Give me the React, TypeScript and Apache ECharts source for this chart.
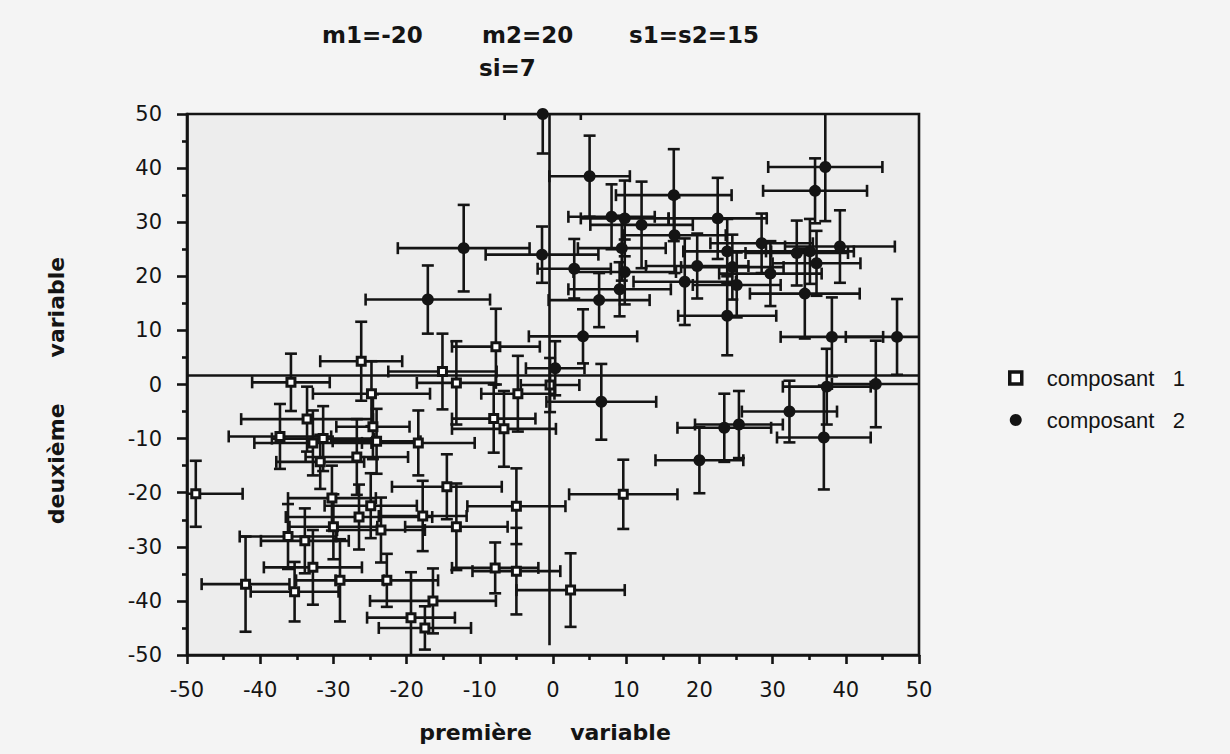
import React, { useEffect, useRef } from "react";
import * as echarts from "echarts";

// composant 1 (squares): x, y, x half-error, y half-error
const comp1X = [-7.8, -26.2, -35.8, -15.1, -13.2, -4.8, -24.8, -0.4, -33.6, -37.3, -32.8, -31.4, -31.8, -26.8, -24.1, -24.6, -18.4, -8.1, -6.7, -48.8, -14.5, -5.0, -30.2, -24.9, -26.5, -17.8, -13.2, -23.5, -30.0, -36.2, -33.9, -32.8, -42.0, -35.3, -29.1, -22.7, -16.4, -19.4, -17.5, -7.9, -5.0, 9.6, 2.4];
const comp1Y = [7.0, 4.3, 0.4, 2.4, 0.3, -1.7, -1.7, -0.1, -6.4, -9.6, -10.8, -10.0, -14.3, -13.4, -10.5, -7.8, -10.8, -6.3, -8.2, -20.2, -18.9, -22.5, -21.0, -22.4, -24.5, -24.3, -26.3, -26.9, -26.3, -28.1, -28.9, -33.8, -36.9, -38.3, -36.2, -36.2, -40.0, -43.1, -45.0, -33.9, -34.5, -20.3, -38.0];
const comp1Ex = [6, 5.6, 5.3, 7.4, 5.4, 5, 8, 4, 9, 7, 8, 7, 6, 7, 6, 5, 7.7, 5.7, 7.1, 6.4, 7.5, 6.7, 6, 6.3, 10, 6, 7, 6, 6, 6.6, 6, 6.7, 6, 6, 6, 7, 8.6, 6, 6.3, 5.9, 6, 7.4, 7.4];
const comp1Ey = [7, 7.3, 5.3, 7, 7.7, 7, 6, 5, 6, 6, 6, 6, 5, 7, 6, 6, 6, 6.3, 7, 6.1, 6, 7, 6, 6, 6, 6.5, 8, 6, 6, 6, 6, 6.9, 8.8, 5.5, 7.6, 4.9, 6, 8.4, 4, 4.7, 8, 6.4, 6.8];

// composant 2 (filled circles)
const comp2X = [-12.2, -17.1, -1.5, -1.4, 5.0, 16.5, 37.2, 35.8, 8.0, 9.8, 12.1, 22.5, 16.6, 28.5, 23.8, 9.4, 39.2, 33.3, 35.1, 36.0, 29.7, 24.5, 19.7, 18.0, 25.1, 34.4, 9.8, 2.9, 9.1, 6.3, 23.8, 4.1, 0.3, 38.1, 47.0, 6.6, 20.0, 23.4, 25.4, 32.3, 37.0, 37.4, 44.1];
const comp2Y = [25.2, 15.7, 24.0, 50, 38.5, 35.0, 40.2, 35.8, 31.0, 30.7, 29.5, 30.7, 27.6, 26.1, 24.6, 25.2, 25.5, 24.3, 24.6, 22.4, 20.5, 21.7, 21.9, 19.0, 18.4, 16.8, 20.8, 21.4, 17.6, 15.6, 12.7, 8.9, 3.0, 8.8, 8.8, -3.2, -14.0, -8.0, -7.4, -5.0, -9.8, -0.4, 0.1];
const comp2Ex = [9, 8.5, 7.7, 5.2, 5.5, 7.9, 7.8, 7.1, 5.9, 6, 7, 6.7, 7, 7, 6, 6, 7.5, 7, 6, 6, 7, 7, 7, 7, 6, 7.5, 7, 5, 7, 6.9, 6.7, 7.4, 4, 7, 7, 7.5, 6, 6.4, 6, 6.5, 6.4, 6, 6];
const comp2Ey = [8, 6.3, 5.2, 7.3, 7.5, 8.5, 10, 6, 6, 7, 8, 7.5, 7, 5.5, 6, 6, 6.7, 6, 6, 6, 6, 6, 6, 8, 6, 8.3, 6, 5.5, 5, 5, 7.3, 5, 5, 7.3, 7, 7, 6.1, 6.3, 6.2, 5.7, 9.6, 7, 8];

// reference lines
const refLineY = 1.8;
const refLineX = -0.5;
const refLineXBottom = -48.2;

const xTicks = { min: -50, max: 50, interval: 10 };
const yTicks = { min: -50, max: 50, interval: 10 };

const FONT = "'Liberation Sans', Arial, Helvetica, sans-serif";
const WIDE = "'DejaVu Sans', Verdana, sans-serif";
const INK = "#141414";

function rows(xs: number[], ys: number[], exs: number[], eys: number[]) {
  return xs.map((x, i) => [x, ys[i], exs[i], eys[i]]);
}

function errRender(params: any, api: any) {
  const x = api.value(0);
  const y = api.value(1);
  const ex = api.value(2);
  const ey = api.value(3);
  const l = api.coord([x - ex, y]);
  const r = api.coord([x + ex, y]);
  const t = api.coord([x, y + ey]);
  const b = api.coord([x, y - ey]);
  const c = 6;
  const style = { stroke: INK, lineWidth: 2.6 };
  return {
    type: "group",
    children: [
      { type: "line", shape: { x1: l[0], y1: l[1], x2: r[0], y2: r[1] }, style },
      { type: "line", shape: { x1: l[0], y1: l[1] - c, x2: l[0], y2: l[1] + c }, style },
      { type: "line", shape: { x1: r[0], y1: r[1] - c, x2: r[0], y2: r[1] + c }, style },
      { type: "line", shape: { x1: t[0], y1: t[1], x2: b[0], y2: b[1] }, style },
      { type: "line", shape: { x1: t[0] - c, y1: t[1], x2: t[0] + c, y2: t[1] }, style },
      { type: "line", shape: { x1: b[0] - c, y1: b[1], x2: b[0] + c, y2: b[1] }, style },
    ],
  };
}

export default function App() {
  const ref = useRef<HTMLDivElement>(null);
  useEffect(() => {
    if (!ref.current) return;
    const chart = echarts.init(ref.current, null, { renderer: "svg" });
    const d1 = rows(comp1X, comp1Y, comp1Ex, comp1Ey);
    const d2 = rows(comp2X, comp2Y, comp2Ex, comp2Ey);
    const axisCommon = {
      type: "value",
      axisLine: { show: true, onZero: false, lineStyle: { color: INK, width: 2.6 } },
      axisTick: { show: true, inside: false, length: 10, lineStyle: { color: INK, width: 2.6 } },
      minorTick: { show: true, splitNumber: 2, length: 5, lineStyle: { color: INK, width: 2.6 } },
      splitLine: { show: false },
      minorSplitLine: { show: false },
      axisLabel: { color: INK, fontSize: 21, fontFamily: WIDE },
      nameTextStyle: { color: INK, fontSize: 22, fontWeight: "bold", fontFamily: WIDE },
    };
    chart.setOption({
      animation: false,
      backgroundColor: "#f4f4f4",
      grid: {
        left: 187,
        right: 311,
        top: 114,
        bottom: 99,
        show: true,
        borderColor: INK,
        borderWidth: 2.6,
        backgroundColor: "#ededed",
      },
      graphic: [
        { type: "text", left: 322, top: 23, style: { text: "m1=-20", font: `bold 23px ${WIDE}`, fill: INK } },
        { type: "text", left: 482, top: 23, style: { text: "m2=20", font: `bold 23px ${WIDE}`, fill: INK } },
        { type: "text", left: 629, top: 23, style: { text: "s1=s2=15", font: `bold 23px ${WIDE}`, fill: INK } },
        { type: "text", left: 479, top: 56, style: { text: "si=7", font: `bold 23px ${WIDE}`, fill: INK } },
      ],
      legend: {
        orient: "vertical",
        left: 1003,
        top: 362,
        itemWidth: 12,
        itemHeight: 12,
        itemGap: 20,
        data: [
          { name: "composant   1", itemStyle: { color: "#ffffff", borderColor: INK, borderWidth: 3.5 } },
          { name: "composant   2" },
        ],
        textStyle: { color: INK, fontSize: 22, fontFamily: FONT, padding: [0, 0, 0, 20] },
      },
      xAxis: {
        ...axisCommon,
        ...xTicks,
        name: "première     variable",
        nameLocation: "middle",
        nameGap: 66,
        nameTextStyle: { ...axisCommon.nameTextStyle, padding: [0, 16, 0, 0] },
        axisTick: { ...axisCommon.axisTick, length: 9 },
        axisLabel: { ...axisCommon.axisLabel, margin: 24 },
      },
      yAxis: {
        ...axisCommon,
        ...yTicks,
        name: "deuxième      variable",
        nameLocation: "middle",
        nameGap: 120,
        nameTextStyle: { ...axisCommon.nameTextStyle, padding: [0, 12, 0, 0] },
        axisLabel: { ...axisCommon.axisLabel, margin: 25 },
      },
      series: [
        {
          name: "err1",
          type: "custom",
          renderItem: errRender,
          data: d1,
          clip: true,
          encode: { x: 0, y: 1 },
          z: 2,
        },
        {
          name: "err2",
          type: "custom",
          renderItem: errRender,
          data: d2,
          clip: true,
          encode: { x: 0, y: 1 },
          z: 2,
          markLine: {
            silent: true,
            symbol: "none",
            label: { show: false },
            lineStyle: { color: INK, width: 2.6, type: "solid" },
            data: [
              [{ coord: [xTicks.min, refLineY] }, { coord: [xTicks.max, refLineY] }],
              [{ coord: [refLineX, yTicks.max] }, { coord: [refLineX, refLineXBottom] }],
            ],
          },
        },
        {
          name: "composant   1",
          type: "scatter",
          data: d1.map((r) => [r[0], r[1]]),
          symbol: "rect",
          symbolSize: 8,
          itemStyle: { color: "#ffffff", borderColor: INK, borderWidth: 3, opacity: 1 },
          z: 4,
        },
        {
          name: "composant   2",
          type: "scatter",
          data: d2.map((r) => [r[0], r[1]]),
          symbol: "circle",
          symbolSize: 12,
          itemStyle: { color: INK, opacity: 1 },
          z: 4,
        },
      ],
    });
    return () => chart.dispose();
  }, []);
  return (
    <div
      ref={ref}
      style={{ position: "fixed", left: 0, top: 0, width: 1230, height: 754 }}
    />
  );
}
